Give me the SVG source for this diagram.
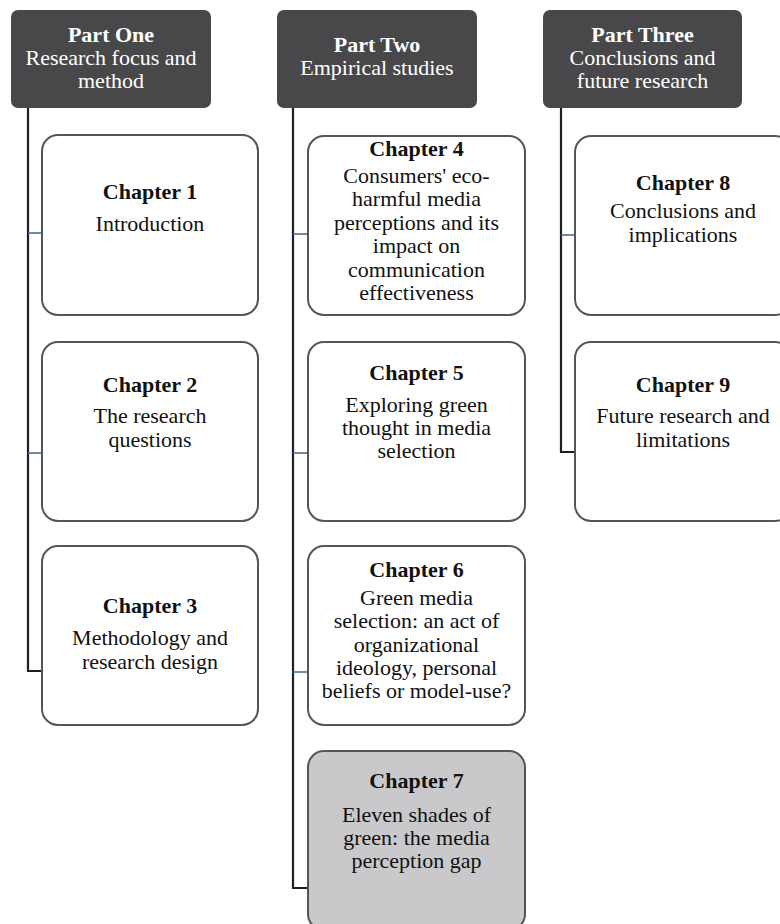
<svg xmlns="http://www.w3.org/2000/svg" width="780" height="924" viewBox="0 0 780 924">
<style>
text{font-family:"Liberation Serif","DejaVu Serif",serif;text-anchor:middle}
.hdr rect{fill:#48484a}
.hdr text{fill:#ffffff;font-size:22px}
.hb{font-weight:bold;font-size:23px}
.box rect{fill:#ffffff;stroke:#555557;stroke-width:2}
.box.gray rect{fill:#c9c9cb}
.box text{fill:#111111;font-size:22px}
.spine{fill:none;stroke:#1e1e26;stroke-width:2.2}
.tick{stroke:#4a6c98;stroke-width:1.6}
</style>
<rect width="780" height="924" fill="#ffffff"/>
<g id="connectors">
<path class="spine" d="M28 108 V671 H42"/>
<path class="spine" d="M293 108 V888 H308"/>
<path class="spine" d="M561 108 V452 H575"/>
<line class="tick" x1="28" y1="233" x2="42" y2="233"/>
<line class="tick" x1="28" y1="453" x2="42" y2="453"/>
<line class="tick" x1="293" y1="234" x2="308" y2="234"/>
<line class="tick" x1="293" y1="453" x2="308" y2="453"/>
<line class="tick" x1="293" y1="672" x2="308" y2="672"/>
<line class="tick" x1="561" y1="235" x2="575" y2="235"/>
</g>
<g id="part1" class="hdr">
<rect x="11" y="10" width="200" height="98" rx="7"/>
<text x="111" y="42" class="hb">Part One</text>
<text x="111" y="65">Research focus and</text>
<text x="111" y="88">method</text>
</g>
<g id="part2" class="hdr">
<rect x="277" y="10" width="200" height="98" rx="7"/>
<text x="377" y="52" class="hb">Part Two</text>
<text x="377" y="75">Empirical studies</text>
</g>
<g id="part3" class="hdr">
<rect x="543" y="10" width="199" height="98" rx="7"/>
<text x="642.5" y="42" class="hb">Part Three</text>
<text x="642.5" y="65">Conclusions and</text>
<text x="642.5" y="88">future research</text>
</g>
<g id="ch1" class="box">
<rect x="42" y="135" width="216" height="180" rx="16"/>
<text x="150" y="199" class="hb">Chapter 1</text>
<text x="150" y="231">Introduction</text>
</g>
<g id="ch2" class="box">
<rect x="42" y="342" width="216" height="179" rx="16"/>
<text x="150" y="392" class="hb">Chapter 2</text>
<text x="150" y="423">The research</text>
<text x="150" y="447">questions</text>
</g>
<g id="ch3" class="box">
<rect x="42" y="546" width="216" height="179" rx="16"/>
<text x="150" y="613" class="hb">Chapter 3</text>
<text x="150" y="645">Methodology and</text>
<text x="150" y="669">research design</text>
</g>
<g id="ch4" class="box">
<rect x="308" y="136" width="217" height="179" rx="16"/>
<text x="416.5" y="156" class="hb">Chapter 4</text>
<text x="416.5" y="183">Consumers' eco-</text>
<text x="416.5" y="206">harmful media</text>
<text x="416.5" y="230">perceptions and its</text>
<text x="416.5" y="253">impact on</text>
<text x="416.5" y="277">communication</text>
<text x="416.5" y="300">effectiveness</text>
</g>
<g id="ch5" class="box">
<rect x="308" y="342" width="217" height="179" rx="16"/>
<text x="416.5" y="380" class="hb">Chapter 5</text>
<text x="416.5" y="412">Exploring green</text>
<text x="416.5" y="435">thought in media</text>
<text x="416.5" y="458">selection</text>
</g>
<g id="ch6" class="box">
<rect x="308" y="546" width="217" height="179" rx="16"/>
<text x="416.5" y="577" class="hb">Chapter 6</text>
<text x="416.5" y="605">Green media</text>
<text x="416.5" y="628">selection: an act of</text>
<text x="416.5" y="652">organizational</text>
<text x="416.5" y="675">ideology, personal</text>
<text x="416.5" y="698">beliefs or model-use?</text>
</g>
<g id="ch7" class="box gray">
<rect x="308" y="751" width="217" height="179" rx="16"/>
<text x="416.5" y="788" class="hb">Chapter 7</text>
<text x="416.5" y="822">Eleven shades of</text>
<text x="416.5" y="845">green: the media</text>
<text x="416.5" y="868">perception gap</text>
</g>
<g id="ch8" class="box">
<rect x="575" y="136" width="216" height="179" rx="16"/>
<text x="683" y="190" class="hb">Chapter 8</text>
<text x="683" y="218">Conclusions and</text>
<text x="683" y="242">implications</text>
</g>
<g id="ch9" class="box">
<rect x="575" y="342" width="216" height="179" rx="16"/>
<text x="683" y="392" class="hb">Chapter 9</text>
<text x="683" y="423">Future research and</text>
<text x="683" y="447">limitations</text>
</g>
</svg>
